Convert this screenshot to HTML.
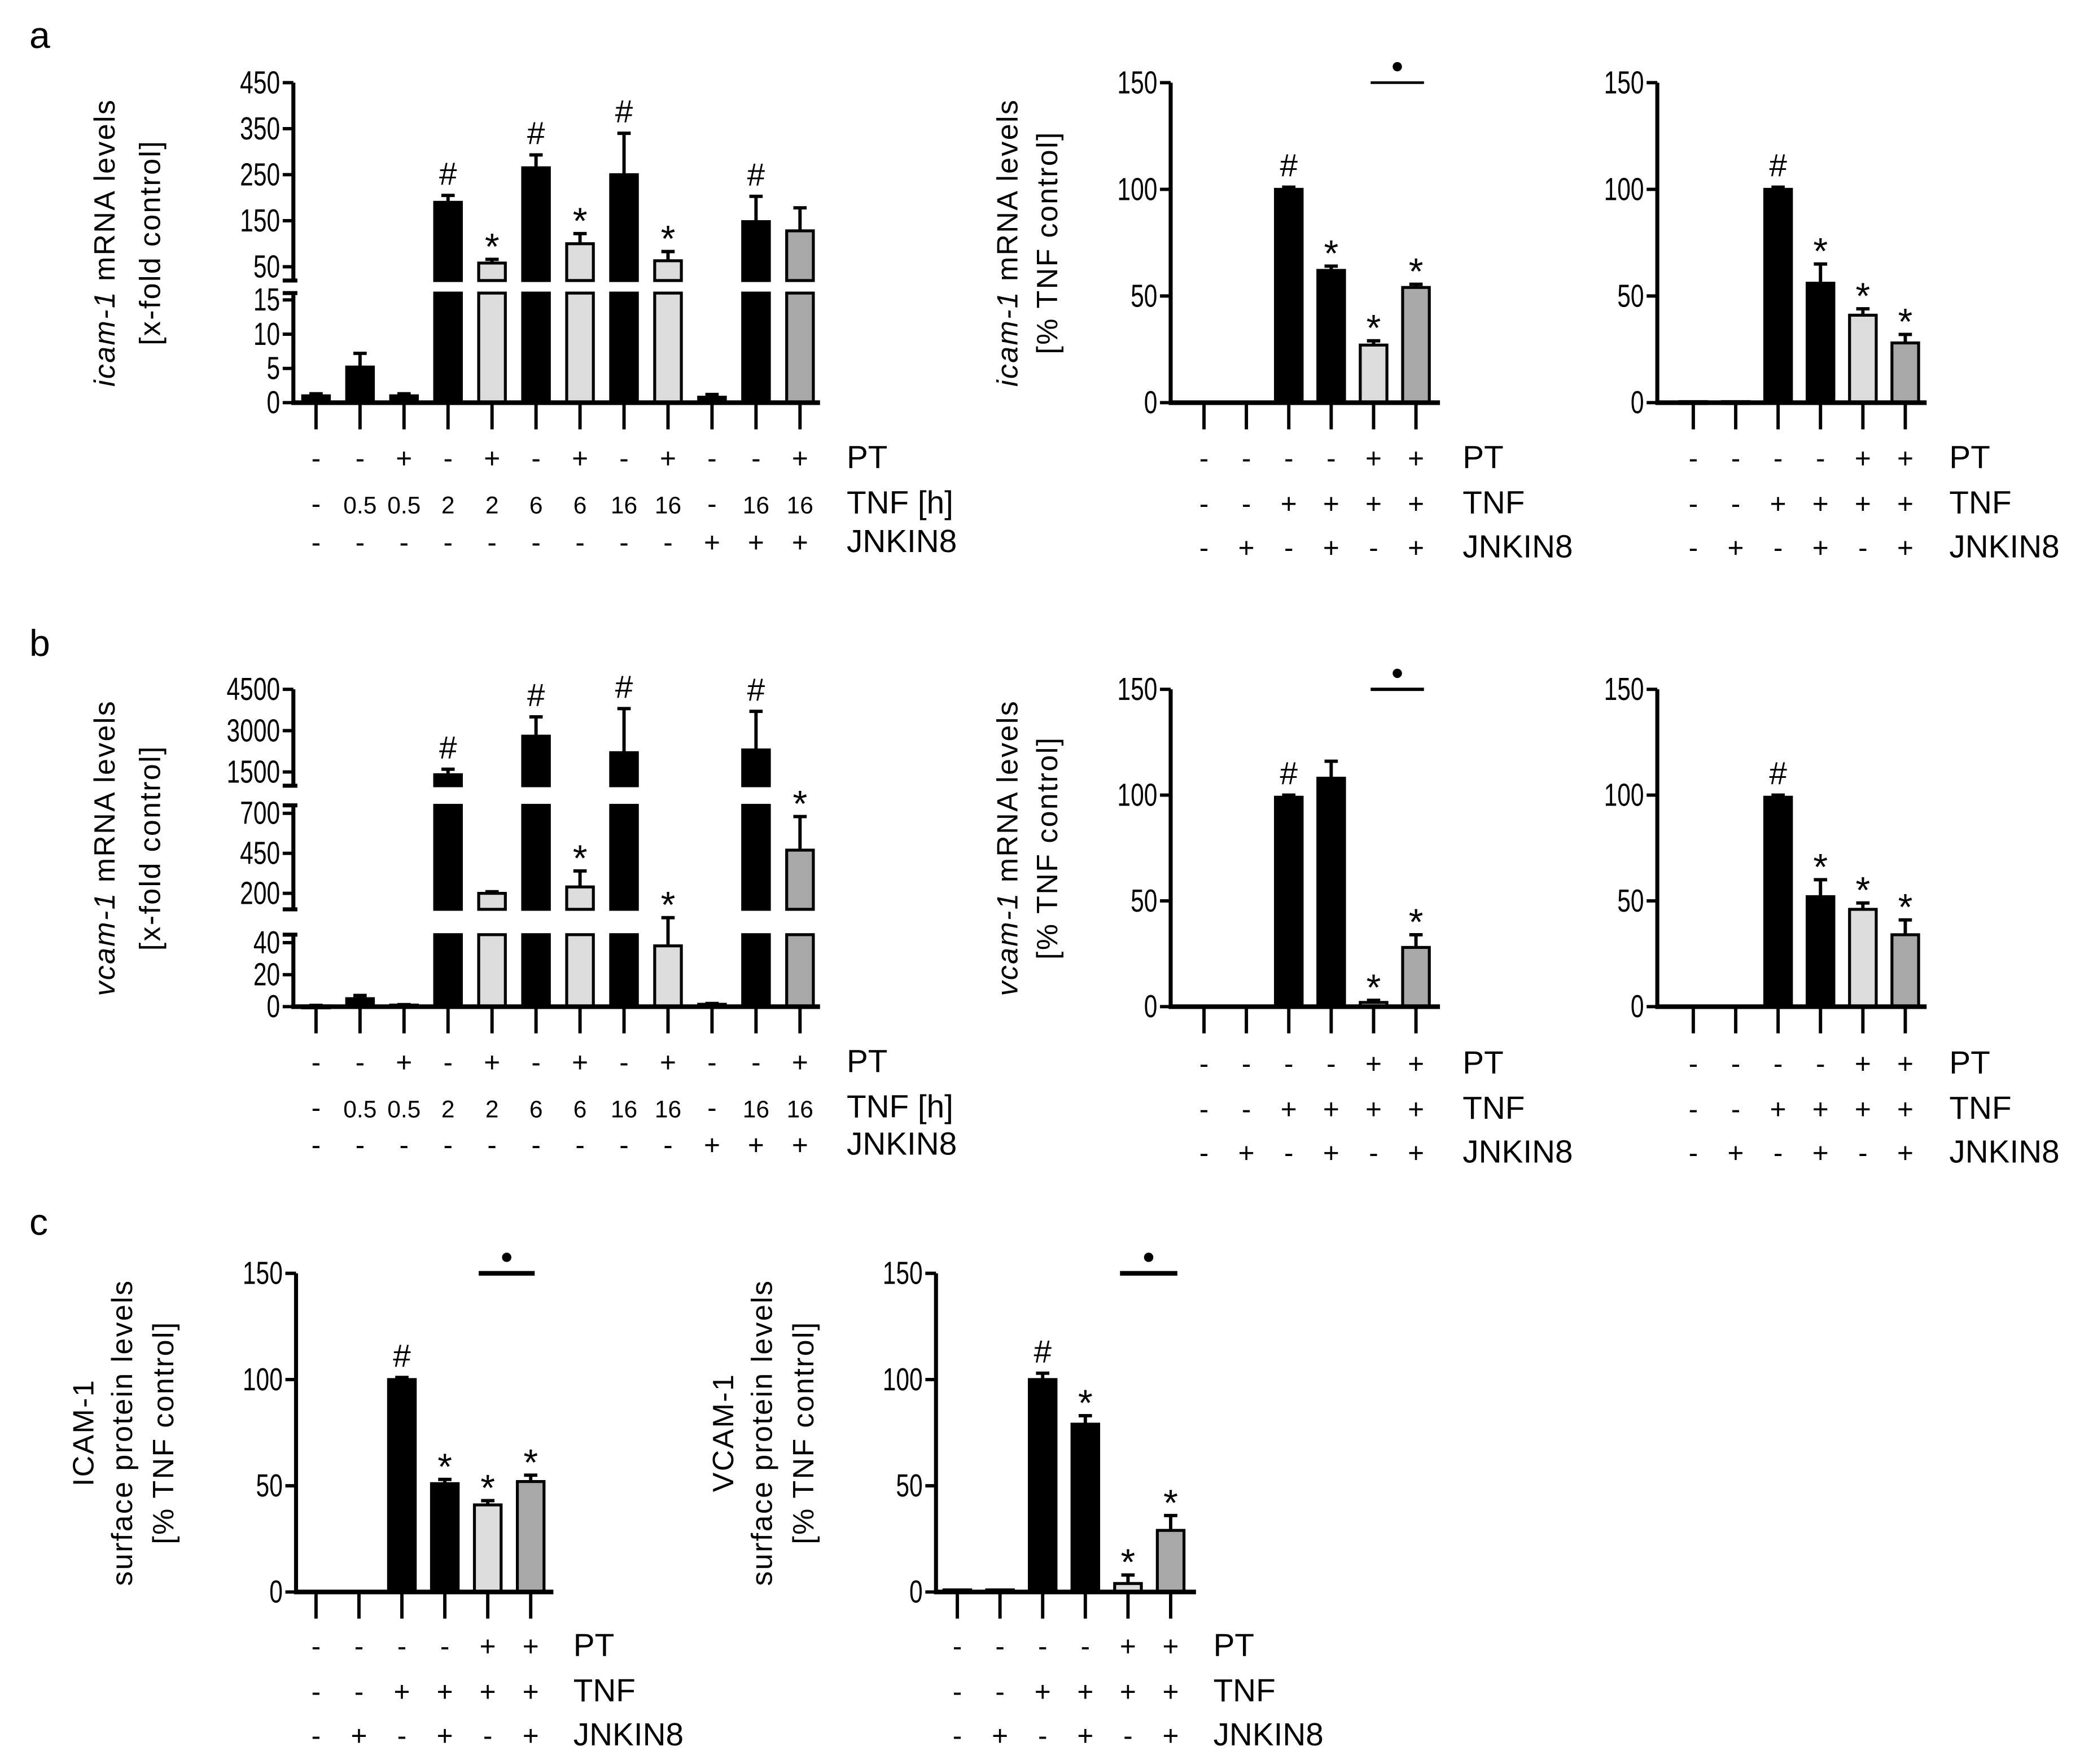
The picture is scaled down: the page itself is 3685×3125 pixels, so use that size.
<!DOCTYPE html>
<html><head><meta charset="utf-8"><style>
html,body{margin:0;padding:0;background:#fff;}
svg{display:block;}
text{font-family:"Liberation Sans",sans-serif;fill:#000;}
</style></head><body>
<svg id="fig" xmlns="http://www.w3.org/2000/svg" width="3685" height="3125" viewBox="0 0 1560 1323">
<rect width="1560" height="1323" fill="#fff"/>
<text x="22" y="36" font-size="28">a</text>
<text x="22" y="492" font-size="28">b</text>
<text x="22" y="926" font-size="28">c</text>
</svg>
<script>
// ---- data ----
const rowNamesTime = ["PT","TNF [h]","JNKIN8"];
const rowNamesStd = ["PT","TNF","JNKIN8"];
const ptTime = ["-","-","+","-","+","-","+","-","+","-","-","+"];
const tnfTime = ["-","0.5","0.5","2","2","6","6","16","16","-","16","16"];
const jnkTime = ["-","-","-","-","-","-","-","-","-","+","+","+"];
const ptStd = ["-","-","-","-","+","+"];
const tnfStd = ["-","-","+","+","+","+"];
const jnkStd = ["-","+","-","+","-","+"];
const colorsTime = ["k","k","k","k","l","k","l","k","l","k","k","g"];
const colorsStd = ["k","k","k","k","l","g"];

const aLeftVals = [1,5.2,1,190,58,265,100,250,63,0.8,148,128];
const aLeftErr = [0.3,2,0.3,15,8,28,22,90,20,0.4,55,50];
const aLeftMarks = ["","","","#","*","#","*","#","*","","#",""];
const aLeftTicks = [0,5,10,15,50,150,250,350,450];

const aMidVals = [0,0,100,62,27,54];
const aMidErr = [0,0,1,2,2,1.5];
const aMidMarks = ["","","#","*","*","*"];
const aRightVals = [0.5,0.5,100,56,41,28];
const aRightErr = [0,0,1,9,3,4];
const aRightMarks = ["","","#","*","*","*"];

const bLeftVals = [0.5,5,1,1400,200,2800,240,2200,38,1.5,2300,470];
const bLeftErr = [0.3,2,0.3,200,10,700,100,1600,10,0.5,1400,210];
const bLeftMarks = ["","","","#","","#","*","#","*","","#","*"];
const bLeftTicks = [0,20,40,200,450,700,1500,3000,4500];

const bMidVals = [0,0,99,108,2,28];
const bMidErr = [0,0,1,8,1,6];
const bMidMarks = ["","","#","","*","*"];
const bRightVals = [0,0,99,52,46,34];
const bRightErr = [0,0,1,8,3,7];
const bRightMarks = ["","","#","*","*","*"];

const cLeftVals = [0,0,100,51,41,52];
const cLeftErr = [0,0,1,2,2,3];
const cLeftMarks = ["","","#","*","*","*"];
const cRightVals = [1,1,100,79,4,29];
const cRightErr = [0,0,3,4,4,7];
const cRightMarks = ["","","#","*","*","*"];
const stdTicks = [0,50,100,150];

const svg = document.getElementById('fig');
const NS = "http://www.w3.org/2000/svg";
function mk(tag, attrs, parent){
  const e = document.createElementNS(NS, tag);
  for (const k in attrs) e.setAttribute(k, attrs[k]);
  (parent||svg).appendChild(e);
  return e;
}
const fillOf = c => c==="k" ? "#000" : (c==="l" ? "#dcdcdc" : "#a8a8a8");

function panel(cfg){
  const g = mk('g', {});
  
  
  const segs = cfg.segs;
  function segFor(v){ for (const s of segs){ if (v<=s.hi) return s; } return segs[segs.length-1]; }
  function y(v){ const s = segFor(v); return s.y0 + (v - s.lo)*(s.y1 - s.y0)/(s.hi - s.lo); }
  const xOf = i => cfg.x0 + i*cfg.dx;
  const bw = 20;
  cfg.vals.forEach((v,i)=>{
    const cx = xOf(i);
    segs.forEach(s=>{
      if (v <= s.lo && s.lo>0) return;
      const top = Math.min(v, s.hi), bot = Math.max(s.lo, 0);
      if (top <= bot) return;
      const yt = s.y0 + (top - s.lo)*(s.y1-s.y0)/(s.hi-s.lo);
      const yb = s.y0 + (bot - s.lo)*(s.y1-s.y0)/(s.hi-s.lo);
      const r = mk('rect', {x:cx-bw/2, y:yt, width:bw, height:Math.max(yb-yt,1.5), fill:fillOf(cfg.colors[i]), stroke:"#000", "stroke-width":2.2}, g);
      
      
    });
    const e = cfg.errs[i];
    if (e > 0){
      const yv = y(v), ye = y(v+e);
      const l = mk('path', {d:`M${cx} ${yv}V${ye}M${cx-5} ${ye}H${cx+5}`, stroke:"#000", "stroke-width":2.5, fill:"none"}, g);
      
      
    }
    const m = cfg.marks[i];
    if (m){
      const t = mk('text', {x:cx, y:y(v+e)-(m==="#"?8:4)+(m==="*"?4:0), "font-size":m==="#"?24:28, "text-anchor":"middle"}, g);
      t.textContent = m;
      
      
    }
  });
  segs.forEach((s,k)=>{
    const a = mk('line', {x1:cfg.ax, x2:cfg.ax, y1:k===0?s.y0+1.5:s.y0, y2:s.y1, stroke:"#000", "stroke-width":3}, g);
    
    
    if (segs.length>1){
      if (k>0) mk('line', {x1:cfg.ax-8, x2:cfg.ax+3, y1:s.y0, y2:s.y0, stroke:"#000","stroke-width":3}, g);
      if (k<segs.length-1) mk('line', {x1:cfg.ax-8, x2:cfg.ax+3, y1:s.y1, y2:s.y1, stroke:"#000","stroke-width":3}, g);
    }
  });
  cfg.ticks.forEach(v=>{
    const yy = y(v);
    mk('line', {x1:cfg.ax-8, x2:cfg.ax, y1:yy, y2:yy, stroke:"#000", "stroke-width":2.5}, g);
    const tx = cfg.ax-10;
    const t = mk('text', {x:tx, y:yy+8, "font-size":24, "text-anchor":"end", transform:`translate(${tx} 0) scale(0.75 1) translate(${-tx} 0)`}, g);
    t.textContent = v;
    
    
  });
  const y0 = y(0);
  const xa = mk('line', {x1:cfg.ax-1.5, x2:cfg.xEnd, y1:y0, y2:y0, stroke:"#000", "stroke-width":3.5}, g);
  
  
  cfg.vals.forEach((v,i)=>{
    mk('line', {x1:xOf(i), x2:xOf(i), y1:y0, y2:y0+20, stroke:"#000", "stroke-width":2.5}, g);
  });
  cfg.rows.forEach((row,r)=>{
    row.forEach((s,i)=>{
      const num = /[0-9]/.test(s);
      const t = mk('text', {x:xOf(i), y:cfg.rowY[r], "font-size":num?18:21, "text-anchor":"middle"}, g);
      t.textContent = s;
      
      
    });
    const t = mk('text', {x:cfg.labX, y:cfg.rowY[r], "font-size":24}, g);
    t.textContent = cfg.rowNames[r];
    
    
  });
  const cy = (y(0) + y(cfg.ticks[cfg.ticks.length-1]))/2;
  cfg.title.forEach((ln,k)=>{
    const tx = cfg.titleX[k];
    const t = mk('text', {x:tx, y:cy, "font-size":22, "text-anchor":"middle", transform:`rotate(-90 ${tx} ${cy})`, "letter-spacing":"1"}, g);
    
    
    if (Array.isArray(ln)){
      const a = mk('tspan', {"font-style":"italic"}, t); a.textContent = ln[0];
      const b = mk('tspan', {}, t); b.textContent = ln[1];
    } else t.textContent = ln;
  });
  if (cfg.sig){
    const s = cfg.sig, sy = y(150);
    const l = mk('line', {x1:s[0], x2:s[1], y1:sy, y2:sy, stroke:"#000", "stroke-width":s[2]}, g);
    
    
    mk('circle', {cx:(s[0]+s[1])/2, cy:sy-12, r:3.5, fill:"#000"}, g);
  }
}
function stdSegs(y0, y150){ return [{lo:0, hi:150, y0:y0, y1:y150}]; }

panel({name:"chart-a-left", ax:220, xEnd:615, x0:237, dx:33, segs:[{lo:0,hi:16,y0:302,y1:219.8},{lo:20,hi:450,y0:210.4,y1:62}],
  vals:aLeftVals, errs:aLeftErr, colors:colorsTime, marks:aLeftMarks, ticks:aLeftTicks,
  rows:[ptTime,tnfTime,jnkTime], rowY:[351,385,414], rowNames:rowNamesTime, labX:635,
  title:[["icam-1"," mRNA levels"],"[x-fold control]"], titleX:[86,120]});
panel({name:"chart-a-middle", ax:878, xEnd:1080, x0:903, dx:31.8, segs:stdSegs(302,62),
  vals:aMidVals, errs:aMidErr, colors:colorsStd, marks:aMidMarks, ticks:stdTicks,
  rows:[ptStd,tnfStd,jnkStd], rowY:[351,385,418], rowNames:rowNamesStd, labX:1097,
  title:[["icam-1"," mRNA levels"],"[% TNF control]"], titleX:[763,793], sig:[1028,1068,2]});
panel({name:"chart-a-right", ax:1243, xEnd:1445, x0:1270, dx:31.8, segs:stdSegs(302,62),
  vals:aRightVals, errs:aRightErr, colors:colorsStd, marks:aRightMarks, ticks:stdTicks,
  rows:[ptStd,tnfStd,jnkStd], rowY:[351,385,418], rowNames:rowNamesStd, labX:1462,
  title:[], titleX:[]});
panel({name:"chart-b-left", ax:220, xEnd:615, x0:237, dx:33, segs:[{lo:0,hi:45,y0:755,y1:701},{lo:100,hi:750,y0:682,y1:604},{lo:1000,hi:4500,y0:589.3,y1:517}],
  vals:bLeftVals, errs:bLeftErr, colors:colorsTime, marks:bLeftMarks, ticks:bLeftTicks,
  rows:[ptTime,tnfTime,jnkTime], rowY:[804,838,866], rowNames:rowNamesTime, labX:635,
  title:[["vcam-1"," mRNA levels"],"[x-fold control]"], titleX:[86,120]});
panel({name:"chart-b-middle", ax:878, xEnd:1080, x0:903, dx:31.8, segs:stdSegs(755,517),
  vals:bMidVals, errs:bMidErr, colors:colorsStd, marks:bMidMarks, ticks:stdTicks,
  rows:[ptStd,tnfStd,jnkStd], rowY:[805,839,872], rowNames:rowNamesStd, labX:1097,
  title:[["vcam-1"," mRNA levels"],"[% TNF control]"], titleX:[763,793], sig:[1028,1068,2.5]});
panel({name:"chart-b-right", ax:1243, xEnd:1445, x0:1270, dx:31.8, segs:stdSegs(755,517),
  vals:bRightVals, errs:bRightErr, colors:colorsStd, marks:bRightMarks, ticks:stdTicks,
  rows:[ptStd,tnfStd,jnkStd], rowY:[805,839,872], rowNames:rowNamesStd, labX:1462,
  title:[], titleX:[]});
panel({name:"chart-c-left", ax:222, xEnd:415, x0:237, dx:32.2, segs:stdSegs(1194,955),
  vals:cLeftVals, errs:cLeftErr, colors:colorsStd, marks:cLeftMarks, ticks:stdTicks,
  rows:[ptStd,tnfStd,jnkStd], rowY:[1242,1276,1309], rowNames:rowNamesStd, labX:430,
  title:["ICAM-1","surface protein levels","[% TNF control]"], titleX:[70,99,130], sig:[359,401,3.5]});
panel({name:"chart-c-right", ax:702, xEnd:897, x0:718, dx:32, segs:stdSegs(1194,955),
  vals:cRightVals, errs:cRightErr, colors:colorsStd, marks:cRightMarks, ticks:stdTicks,
  rows:[ptStd,tnfStd,jnkStd], rowY:[1242,1276,1309], rowNames:rowNamesStd, labX:910,
  title:["VCAM-1","surface protein levels","[% TNF control]"], titleX:[550,579,610], sig:[840,883,3.5]});
</script>
</body></html>
